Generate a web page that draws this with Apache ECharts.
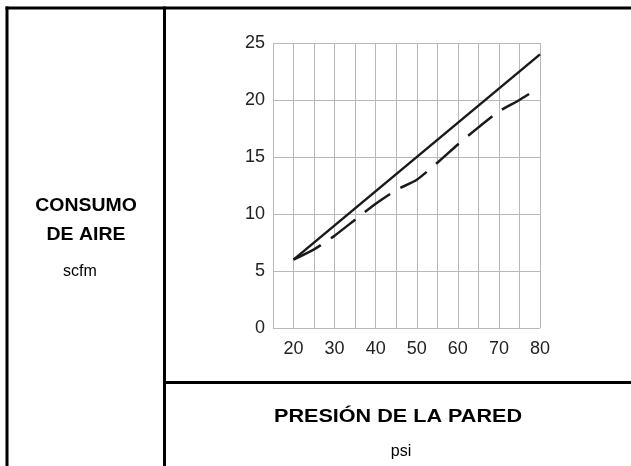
<!DOCTYPE html>
<html>
<head>
<meta charset="utf-8">
<script src="https://cdn.jsdelivr.net/npm/echarts@6/dist/echarts.min.js"></script>
<style>
  html, body { margin: 0; padding: 0; background: #fff; }
  #chart { width: 631px; height: 466px; }
</style>
</head>
<body>
<div id="chart"></div>
<script>
// presión de la pared (psi)
const xSolid = [20, 80]
const ySolid = [6, 24]

const xDashed = [20, 25, 30, 35, 40, 45, 50, 55, 60, 65, 70, 75, 79]
const yDashed = [6, 6.9, 8.1, 9.5, 10.9, 12.1, 13.0, 14.5, 16.1, 17.6, 19.0, 20.0, 20.9]

const xLabels = [20, 30, 40, 50, 60, 70, 80]

const chart = echarts.init(document.getElementById('chart'))

const font = '"Liberation Sans", Arial, sans-serif'
const frame = { stroke: '#000', lineWidth: 3 }

const option = {
  backgroundColor: '#fff',
  animation: false,
  textStyle: { fontFamily: font },
  grid: { left: 273, right: 91, top: 43, bottom: 138 },
  xAxis: {
    type: 'value',
    min: 15,
    max: 80,
    interval: 5,
    axisLine: { show: false },
    axisTick: { show: false },
    axisLabel: {
      color: '#222',
      fontSize: 18,
      margin: 12,
      formatter: v => (xLabels.includes(v) ? String(v) : '')
    },
    splitLine: { show: true, lineStyle: { color: '#b8b8b8', width: 1 } }
  },
  yAxis: {
    type: 'value',
    min: 0,
    max: 25,
    interval: 5,
    axisLine: { show: false },
    axisTick: { show: false },
    axisLabel: { color: '#222', fontSize: 18, margin: 8 },
    splitLine: { show: true, lineStyle: { color: '#b8b8b8', width: 1 } }
  },
  series: [
    {
      type: 'line',
      data: xSolid.map((x, i) => [x, ySolid[i]]),
      symbol: 'none',
      lineStyle: { color: '#1a1a1a', width: 2.5 }
    },
    {
      type: 'line',
      data: xDashed.map((x, i) => [x, yDashed[i]]),
      symbol: 'none',
      smooth: 0.2,
      lineStyle: { color: '#1a1a1a', width: 2.5, type: [31, 12] }
    }
  ],
  graphic: [
    // marco de la tabla
    { type: 'line', shape: { x1: 5.5, y1: 8, x2: 631, y2: 8 }, style: frame, silent: true },
    { type: 'line', shape: { x1: 7, y1: 6.5, x2: 7, y2: 466 }, style: frame, silent: true },
    { type: 'line', shape: { x1: 164.5, y1: 6.5, x2: 164.5, y2: 466 }, style: frame, silent: true },
    { type: 'line', shape: { x1: 164.5, y1: 382.5, x2: 631, y2: 382.5 }, style: frame, silent: true },
    // textos
    {
      type: 'text', x: 86, y: 192, scaleX: 1.08,
      style: {
        text: 'CONSUMO\nDE AIRE', textAlign: 'center',
        font: 'bold 18px ' + font, fill: '#000', lineHeight: 29
      }
    },
    {
      type: 'text', x: 80, y: 264,
      style: { text: 'scfm', textAlign: 'center', font: '16px ' + font, fill: '#000' }
    },
    {
      type: 'text', x: 398, y: 408, scaleX: 1.2,
      style: { text: 'PRESIÓN DE LA PARED', textAlign: 'center', font: 'bold 18px ' + font, fill: '#000' }
    },
    {
      type: 'text', x: 401, y: 444,
      style: { text: 'psi', textAlign: 'center', font: '16px ' + font, fill: '#000' }
    }
  ]
}

chart.setOption(option)
</script>
</body>
</html>
